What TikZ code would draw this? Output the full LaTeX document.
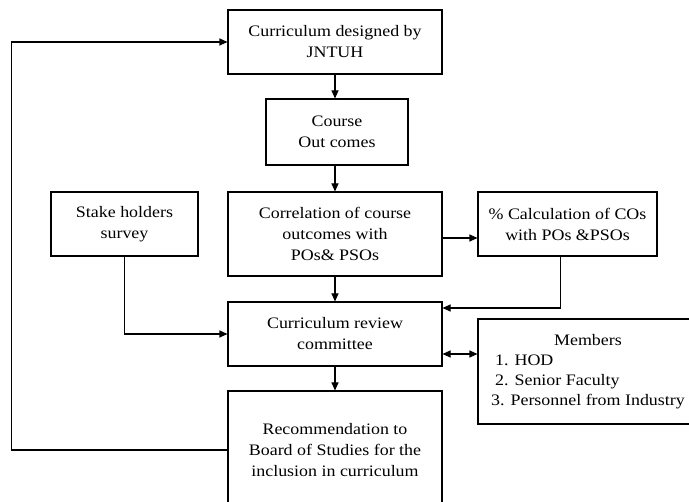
\documentclass[tikz,border=0pt]{standalone}
\usepackage{fontspec}
\setmainfont{Liberation Serif}[FakeStretch=1.12]
\usetikzlibrary{arrows.meta}
\begin{document}
\begin{tikzpicture}[x=1pt,y=-1pt,
  box/.style={draw,line width=1.1pt,align=center,inner sep=0pt,
    font=\fontsize{16pt}{21pt}\selectfont},
  arr/.style={line width=1.1pt,-{Triangle[length=8pt,width=7pt]}},
  arrb/.style={line width=1.1pt,{Triangle[length=8pt,width=7pt]}-{Triangle[length=8pt,width=7pt]}}]
\useasboundingbox (0,0) rectangle (689,502);
\clip (0,0) rectangle (689,502);
\fill[white] (0,0) rectangle (689,502);
\node[box,minimum width=214pt,minimum height=64pt] (b1) at (335,42) {Curriculum designed by\\JNTUH};
\node[box,minimum width=142pt,minimum height=66pt] (b2) at (337,132) {Course\\Out comes};
\node[box,minimum width=214pt,minimum height=84pt] (b3) at (335,234) {Correlation of course\\outcomes with\\POs\& PSOs};
\node[box,minimum width=147pt,minimum height=64pt] (sh) at (124.5,224) {Stake holders\\survey};
\node[box,minimum width=179pt,minimum height=64pt] (calc) at (567.5,224) {\% Calculation of COs\\with POs \&PSOs};
\node[box,minimum width=214pt,minimum height=64pt] (rev) at (335,334) {Curriculum review\\committee};
\node[box,minimum width=220pt,minimum height=105pt] (mem) at (588,371.5) {\begin{tabular}{@{}l@{}}\multicolumn{1}{@{}c@{}}{Members}\\[-1pt]\hspace{4pt}1. HOD\\[-1pt]\hspace{4pt}2. Senior Faculty\\[-1pt]3. Personnel from Industry\end{tabular}};
\node[box,minimum width=214pt,minimum height=118pt] (rec) at (335,450) {Recommendation to\\Board of Studies for the\\inclusion in curriculum};
\draw[arr] (b1.south) -- (b1.south |- b2.north);
\draw[arr] (b3.north |- b2.south) -- (b3.north);
\draw[arr] (b3.south) -- (rev.north);
\draw[arr] (rev.south) -- (rec.north);
\draw[arr] (rec.west) -- ++(-216,0) |- (b1.west);
\draw[arr] (sh.south) |- (rev.west);
\draw[arr] ([yshift=-4pt]b3.east) -- ([yshift=-4pt]b3.east -| calc.west);
\draw[arr] ([xshift=-7pt]calc.south) |- ([yshift=26pt]rev.east);
\draw[arrb] ([yshift=-20pt]rev.east) -- ([yshift=-20pt]rev.east -| mem.west);
\end{tikzpicture}
\end{document}
